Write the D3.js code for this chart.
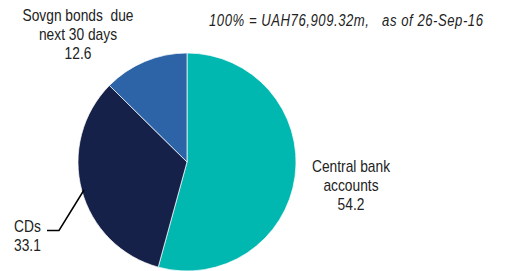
<!DOCTYPE html>
<html>
<head>
<meta charset="utf-8">
<script src="https://cdn.jsdelivr.net/npm/d3@7"></script>
<style>
  body { margin: 0; background: #fff; }
  text { font-family: "Liberation Sans", Arial, sans-serif; fill: #222; white-space: pre; }
</style>
</head>
<body>
<div id="chart"></div>
<script>
var width = 508,
    height = 271,
    radius = 109;

// slices, clockwise from 12 o'clock
var categories = ["Central bank accounts", "CDs", "Sovgn bonds due next 30 days"];
var values = [54.2, 33.1, 12.6];
var colors = ["#00b8b0", "#16214a", "#2d64a8"];
var title = "100% = UAH76,909.32m,   as of 26-Sep-16";

var svg = d3.select("#chart").append("svg")
    .attr("width", width)
    .attr("height", height);

var g = svg.append("g")
    .attr("transform", "translate(187,162)");

var pie = d3.pie().sort(null).value(function(d) { return d; });
var arc = d3.arc().innerRadius(0).outerRadius(radius);

g.selectAll("path")
    .data(pie(values))
    .enter().append("path")
    .attr("d", arc)
    .style("fill", function(d, i) { return colors[i]; })
    .style("stroke", "#fff")
    .style("stroke-width", 0.7);

// narrow look: squeeze a regular face horizontally
var sx = 0.82;

svg.append("g")
    .attr("transform", "translate(209,26) scale(" + sx + ",1)")
    .append("text")
    .style("font-size", "16px")
    .attr("textLength", 274 / sx)
    .style("font-style", "italic")
    .text(title);

function label(lines, x, y, anchor) {
    var t = svg.append("g")
        .attr("transform", "translate(" + x + "," + y + ") scale(" + sx + ",1)")
        .append("text")
        .attr("text-anchor", anchor)
        .style("font-size", "16.8px");
    lines.forEach(function(s, i) {
        t.append("tspan").attr("x", 0).attr("dy", i ? 19.2 : 0).text(s);
    });
}

label(["Sovgn bonds  due", "next 30 days", values[2].toFixed(1)], 78, 21, "middle");
label(["Central bank", "accounts", values[0].toFixed(1)], 351, 172, "middle");
label(["CDs", values[1].toFixed(1)], 14, 232, "start");

// leader line for CDs
svg.append("path")
    .attr("d", "M47,230.5 L59,230.5 L84,190")
    .style("fill", "none")
    .style("stroke", "#000")
    .style("stroke-width", 1.5);
</script>
</body>
</html>
